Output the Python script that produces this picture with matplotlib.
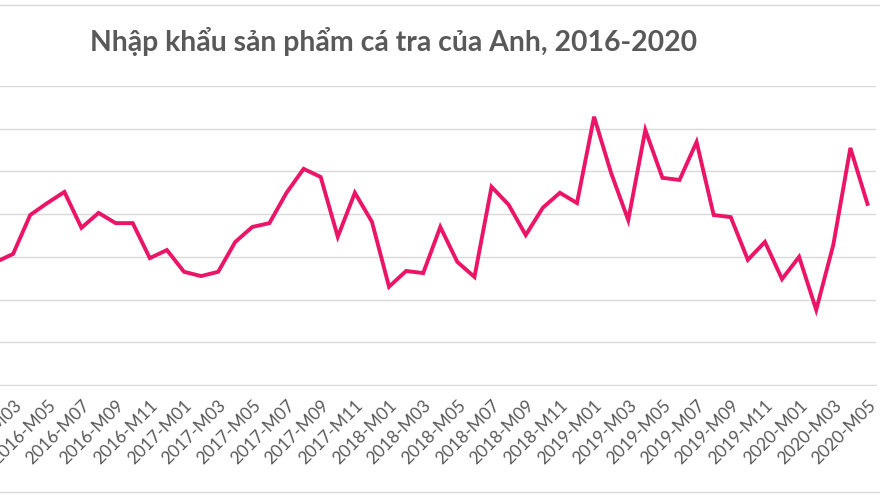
import matplotlib
matplotlib.use('Agg')
from matplotlib import pyplot as plt
from matplotlib.lines import Line2D
import numpy as np

# UK pangasius imports, monthly (2016-M02 .. 2020-M05)
months = []
for yr in range(2016, 2021):
    for m in range(1, 13):
        months.append('%d-M%02d' % (yr, m))
months = months[1:53]  # 2016-M02 .. 2020-M05

values = [2.88, 3.07, 3.98, 4.26, 4.52, 3.68, 4.03, 3.79, 3.79, 2.97, 3.16,
          2.65, 2.55, 2.65, 3.35, 3.70, 3.79, 4.50, 5.06, 4.87, 3.47, 4.50, 3.82,
          2.30, 2.67, 2.62, 3.70, 2.88, 2.53, 4.64, 4.22, 3.51, 4.15, 4.50, 4.26,
          6.28, 4.96, 3.86, 5.97, 4.85, 4.80, 5.69, 3.98, 3.93, 2.93, 3.35, 2.48,
          3.00, 1.76, 3.28, 5.55, 4.24]

title = 'Nhập khẩu sản phẩm cá tra của Anh, 2016-2020'
fonts = ['Lato', 'Noto Sans', 'DejaVu Sans']
plt.rcParams['font.family'] = fonts

W, H = 880, 495
fig = plt.figure(figsize=(W / 100, H / 100), dpi=100)

# plot area in pixels: left edge is cut off by the crop
ax_l, ax_r, ax_t, ax_b = -12.5, 876, 86, 385
ax = fig.add_axes([ax_l / W, (H - ax_b) / H, (ax_r - ax_l) / W, (ax_b - ax_t) / H])

x = np.arange(len(values))
ax.plot(x, values, color='#EC1467', lw=2.8, solid_joinstyle='miter')

ax.set_xlim(-0.5, len(values) - 0.5)
ax.set_ylim(0, 7)
ax.set_yticks(range(0, 8))
ax.yaxis.grid(True, color='#d9d9d9', lw=1)
ax.set_axisbelow(True)
for s in ['top', 'right', 'left']:
    ax.spines[s].set_visible(False)
ax.spines['bottom'].set_color('#d9d9d9')
ax.tick_params(axis='y', length=0, labelleft=False)

tick_idx = [i for i, mo in enumerate(months) if int(mo[-2:]) % 2 == 1]
ax.set_xticks(tick_idx)
ax.set_xticklabels([months[i] for i in tick_idx], rotation=45, ha='right',
                   rotation_mode='anchor', fontsize=12.5, color='#595959')
ax.tick_params(axis='x', length=0, pad=9)

t = fig.text(90 / W, 1 - 42 / H, title, ha='left', va='center',
             fontsize=16, fontweight='bold', color='#595959')
fig.canvas.draw()
bb = t.get_window_extent()
t.set_fontsize(16 * 607 / bb.width)

# chart border lines
fig.add_artist(Line2D([0, 1], [1 - 5 / H, 1 - 5 / H], color='#d9d9d9', lw=1))
fig.add_artist(Line2D([0, 1], [1 - 492 / H, 1 - 492 / H], color='#d9d9d9', lw=1))

fig.savefig('out.png', dpi=100)
